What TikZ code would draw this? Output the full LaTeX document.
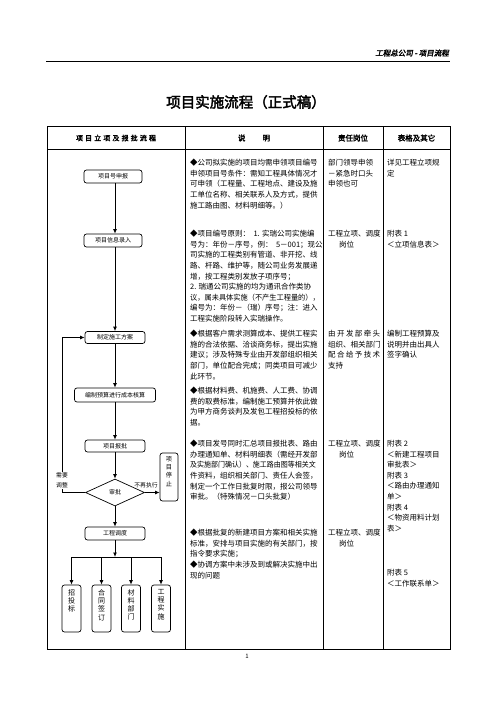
\documentclass[tikz,border=0pt]{standalone}
\usepackage{graphicx}
\usepackage{fontspec}
\setmainfont{Noto Sans CJK SC}[AutoFakeBold=2.5,AutoFakeSlant=0.2]
\usetikzlibrary{arrows.meta,shapes.geometric}
\newcommand\spreadline[2]{\makebox[#1][s]{#2}}
\newcommand\squeezeline[2]{\scalebox{#1}[1]{#2}}
\begin{document}
\begin{tikzpicture}[x=1pt,y=-1pt,
  fbox/.style={draw, rounded corners=2.5pt, line width=0.7pt, inner sep=0pt, font=\fontsize{6}{7}\selectfont},
  vbox/.style={draw, rounded corners=2.5pt, line width=0.7pt, inner sep=0pt, minimum width=19pt, minimum height=47pt},
  vtext/.style={anchor=north, inner sep=0pt, align=center, font=\fontsize{7}{8.3}\selectfont},
  arr/.style={-{Latex[length=4.5pt,width=4pt]}, line width=0.9pt},
  ln/.style={line width=0.9pt},
  desc/.style={anchor=north west, align=left, inner sep=0pt, font=\fontsize{7.5}{10.6}\selectfont},
  hdr/.style={inner sep=0pt, font=\fontsize{7.5}{8}\selectfont\bfseries},
  lbl/.style={inner sep=0.5pt, font=\fontsize{5.8}{7}\selectfont}
]
\useasboundingbox (0,0) rectangle (496,702);
\fill[white] (0,0) rectangle (496,702);

% page header
\node[anchor=east, inner sep=0pt, font=\fontsize{7.5}{8}\selectfont\bfseries\itshape] (pagehead) at (449,53) {工程总公司 - 项目流程};
\coordinate (hl) at (46,61.5);
\coordinate (hr) at (450,61.5);
\draw[line width=0.8pt] (hl) -- (hr);

% title
\node[inner sep=0pt, font=\fontsize{14.5}{16}\selectfont\bfseries] (title) at (246,102) {项目实施流程（正式稿）};

% table
\draw[line width=1pt] (47,126) rectangle (450,649);
\draw[line width=0.9pt] (47,149) -- (450,149);
\draw[line width=0.9pt] (185,126) -- (185,649);
\draw[line width=0.9pt] (323,126) -- (323,649);
\draw[line width=0.9pt] (383.5,126) -- (383.5,649);

\node[hdr, font=\fontsize{7}{8}\selectfont\bfseries] (h1) at (116,138) {\spreadline{80pt}{项 目 立 项 及 报 批 流 程}};
\node[hdr] (h2) at (254,138) {说\hspace{17pt}明};
\node[hdr] (h3) at (353,138) {责任岗位};
\node[hdr] (h4) at (416.5,138) {表格及其它};

% flowchart
\node[fbox, minimum width=58pt, minimum height=13pt] (n1) at (113,176.5) {项目号申报};
\node[fbox, minimum width=58pt, minimum height=13pt] (n2) at (113,240.5) {项目信息录入};
\node[fbox, minimum width=60pt, minimum height=12pt] (n3) at (115,337.5) {制定施工方案};
\node[fbox, minimum width=81pt, minimum height=14pt] (n4) at (115,395) {编制预算进行成本核算};
\node[fbox, minimum width=60pt, minimum height=12pt] (n5) at (115,446) {项目报批};
\node[draw, shape=diamond, line width=0.7pt, minimum width=59pt, minimum height=27pt, inner sep=0pt, font=\fontsize{6}{7}\selectfont] (dia) at (115,492.5) {审批};
\node[vbox, minimum width=18pt, minimum height=48pt] (stop) at (169,477) {};
\node[vtext, font=\fontsize{6.2}{8.4}\selectfont] (stopt) at (169,456) {项\\目\\停\\止};
\node[fbox, minimum width=60pt, minimum height=13pt] (n6) at (115,533.5) {工程调度};

\node[vbox] (b1) at (71.5,608.5) {};
\node[vbox] (b2) at (101.5,608.5) {};
\node[vbox] (b3) at (131,608.5) {};
\node[vbox] (b4) at (161,608.5) {};
\node[vtext] (t1) at (71.5,589) {招\\投\\标};
\node[vtext] (t2) at (101.5,589) {合\\同\\签\\订};
\node[vtext] (t3) at (131,589) {材\\料\\部\\门};
\node[vtext] (t4) at (161,589) {工\\程\\实\\施};

\draw[arr] (n1.south -| 115,0) -- (n2.north -| 115,0);
\draw[arr] (n2.south -| 115,0) -- (n3.north);
\draw[arr] (n3) -- (n4);
\draw[arr] (n4) -- (n5);
\draw[arr] (n5) -- (dia.north);
\draw[arr] (dia.south) -- (n6.north);
\draw[arr] (dia.east) -- (stop.west |- dia.east);
\coordinate (lp) at (62,492.5);
\draw[arr] (dia.west) -- (lp) |- (n3.west);
\node[lbl, fill=white, align=center, font=\fontsize{5.8}{10}\selectfont] (adj) at (62,480.5) {需要\\调整};
\node[lbl, anchor=south] (noexec) at (146,489) {不再执行};

\coordinate (bar) at (115,557);
\draw[arr] (n6.south) -- (bar);
\draw[ln] (b1.north |- bar) -- (b4.north |- bar);
\draw[arr] (b1.north |- bar) -- (b1.north);
\draw[arr] (b2.north |- bar) -- (b2.north);
\draw[arr] (b3.north |- bar) -- (b3.north);
\draw[arr] (b4.north |- bar) -- (b4.north);

% description column
\node[desc] (d1) at (190,159) {◆公司拟实施的项目均需申领项目编号\\申领项目号条件：需知工程具体情况才\\可申领（工程量、工程地点、建设及施\\工单位名称、相关联系人及方式，提供\\施工路由图、材料明细等。）};
\node[desc] (d2) at (190,230) {◆项目编号原则：\ \ 1. 实瑞公司实施编\\号为：年份－序号，例：\ \ 5－001；现公\\司实施的工程类别有管道、非开挖、线\\路、杆路、维护等，随公司业务发展递\\增，按工程类别发放子项序号；\\2. 瑞通公司实施的均为通讯合作类协\\\squeezeline{0.96}{议，属未具体实施（不产生工程量的），}\\编号为：年份－（瑞）序号；注：进入\\工程实施阶段转入实瑞操作。};
\node[desc] (d3) at (190,330) {◆根据客户需求测算成本、提供工程实\\施的合法依据、洽谈商务标，提出实施\\建议；涉及特殊专业由开发部组织相关\\部门，单位配合完成；同类项目可减少\\此环节。};
\node[desc] (d4) at (190,387) {◆根据材料费、机施费、人工费、协调\\费的取费标准，编制施工预算并依此做\\为甲方商务谈判及发包工程招投标的依\\据。};
\node[desc] (d5) at (190,440) {◆项目发号同时汇总项目报批表、路由\\办理通知单、材料明细表（需经开发部\\\squeezeline{0.93}{及实施部门确认）、施工路由图等相关文}\\件资料，组织相关部门、责任人会签，\\制定一个工作日批复时限，报公司领导\\审批。（特殊情况－口头批复）};
\node[desc] (d6) at (190,529) {◆根据批复的新建项目方案和相关实施\\标准，安排与项目实施的有关部门，按\\指令要求实施；\\◆协调方案中未涉及到或解决实施中出\\现的问题};

% responsibility column
\node[desc] (r1) at (328,159) {部门领导申领\\－紧急时口头\\申领也可};
\node[desc] (r2) at (328,230) {工程立项、调度\\\hspace*{11pt}岗位};
\node[desc] (r3) at (328,330) {\spreadline{52pt}{由 开 发 部 牵 头}\\组织、相关部门\\\spreadline{52pt}{配 合 给 予 技 术}\\支持};
\node[desc] (r5) at (328,440) {工程立项、调度\\\hspace*{11pt}岗位};
\node[desc] (r6) at (328,529) {工程立项、调度\\\hspace*{11pt}岗位};

% forms column
\node[desc] (f1) at (387,159) {详见工程立项规\\定};
\node[desc] (f2) at (387,230) {附表 1\\＜立项信息表＞};
\node[desc] (f3) at (387,330) {编制工程预算及\\说明并由出具人\\签字确认};
\node[desc] (f5) at (387,440) {附表 2\\＜新建工程项目\\审批表＞\\附表 3\\＜路由办理通知\\单＞\\附表 4\\＜物资用料计划\\表＞};
\node[desc] (f6) at (387,569) {附表 5\\＜工作联系单＞};

% page number
\node[inner sep=0pt, font=\fontsize{6}{7}\selectfont] (pg) at (247,656) {1};
\end{tikzpicture}
\end{document}
